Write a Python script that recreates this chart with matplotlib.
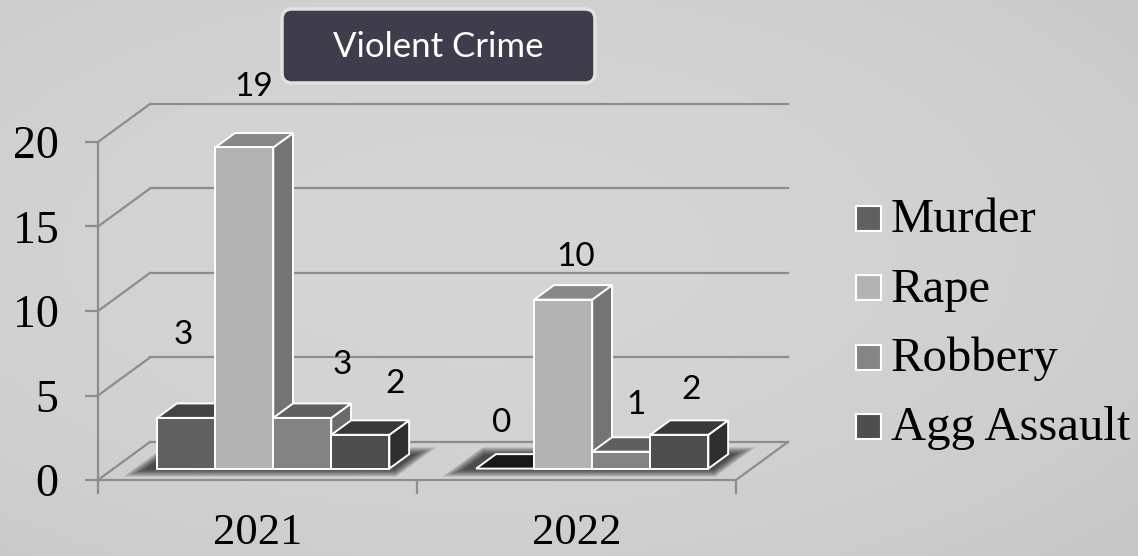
import numpy as np
import matplotlib
matplotlib.use('Agg')
import matplotlib.pyplot as plt
from matplotlib.patches import Polygon, FancyBboxPatch, Rectangle

# ---------------- data ----------------
years = ['2021', '2022']
crimes = ['Murder', 'Rape', 'Robbery', 'Agg Assault']
murder = [3, 0]
rape = [19, 10]
robbery = [3, 1]
agg_assault = [2, 2]
series = [murder, rape, robbery, agg_assault]
y_ticks = [0, 5, 10, 15, 20]
title = 'Violent Crime'

# ---------------- style ----------------
front_col = ['#606060', '#b3b3b3', '#838383', '#4e4e4e']
top_col = ['#444444', '#888888', '#5f5f5f', '#393939']
side_col = ['#4d4d4d', '#747474', '#6b6b6b', '#2f2f2f']
legend_col = ['#606060', '#b3b3b3', '#858585', '#4e4e4e']
zero_top = '#181818'
grid_col = '#8d8d8d'
# label nudges in pixels (dx, dy screen-down), per year then per crime
label_nudge = [[(-13, -76), (0, -53), (30, -46), (25, -44)],
               [(-13, -38), (3, -35), (5, -39), (2, -38)]]

W, H = 1138, 556
fig = plt.figure(figsize=(W / 100, H / 100), dpi=100)

# background gradient
bg = fig.add_axes([0, 0, 1, 1], zorder=-10)
yy, xx = np.mgrid[0:1:200j, 0:1:400j]
r = np.sqrt(((xx - 0.42) / 0.8) ** 2 + ((yy - 0.45) / 0.8) ** 2)
val = (0.835 - 0.055 * r ** 2).clip(0, 1)
bg.imshow(np.dstack([val] * 3), extent=[0, 1, 0, 1], aspect='auto')
bg.axis('off')


def fx(px):
    return px / W


def fy(py):
    return 1 - py / H


ax = fig.add_axes([fx(98), fy(480), (736 - 98) / W, (480 - 142) / H])
ax.set_xlim(0, 2)
ax.set_ylim(0, 20)
ax.patch.set_alpha(0)

DX, DY = 0.163, 2.25  # full floor depth offset in data units
d0, d1 = 0.30, 0.68  # bar depth span
bw = 0.182
g0 = 0.1365


def P(x, y, d):
    return (x + d * DX, y + d * DY)


# walls / gridlines
for v in y_ticks:
    ax.plot([DX, 2 + DX], [v + DY, v + DY], color=grid_col, lw=1.6, clip_on=False, zorder=1)
    ax.plot([0, DX], [v, v + DY], color=grid_col, lw=1.6, clip_on=False, zorder=1)
ax.plot([2, 2 + DX], [0, DY], color=grid_col, lw=1.6, clip_on=False, zorder=1)

for s in ['top', 'right']:
    ax.spines[s].set_visible(False)
for s in ['left', 'bottom']:
    ax.spines[s].set_color(grid_col)
    ax.spines[s].set_linewidth(1.6)

ax.set_yticks(y_ticks)
ax.set_yticklabels([str(t) for t in y_ticks], fontfamily='Liberation Serif')
ax.tick_params(axis='y', length=9.5, width=1.6, color=grid_col, pad=19, labelsize=33)
ax.set_xticks([0, 1, 2])
ax.set_xticklabels([])
ax.set_xticks([0.5, 1.5], minor=True)
ax.set_xticklabels(years, minor=True, fontfamily='Liberation Serif')
ax.tick_params(axis='x', which='major', length=10, width=1.6, color=grid_col)
ax.tick_params(axis='x', which='minor', length=0, pad=23.5, labelsize=32)

# shadows
for c in range(len(years)):
    xl = c + g0 - 0.035
    xr = c + g0 + 4 * bw + 0.02
    for k in range(7):
        e = 0.006 * k
        ed = 0.03 * k
        poly = [P(xl - e, 0, d0 - 0.03 - ed), P(xr + e, 0, d0 - 0.03 - ed),
                P(xr + e, 0, d1 + ed), P(xl - e, 0, d1 + ed)]
        ax.add_patch(Polygon(poly, closed=True, facecolor='black', edgecolor='none',
                             alpha=0.13, clip_on=False, zorder=2))

# bars
for c in range(len(years)):
    for j, s in enumerate(series):
        v = s[c]
        x0 = c + g0 + j * bw
        x1 = x0 + bw
        side = [P(x1, 0, d0), P(x1, 0, d1), P(x1, v, d1), P(x1, v, d0)]
        top = [P(x0, v, d0), P(x1, v, d0), P(x1, v, d1), P(x0, v, d1)]
        front = [P(x0, 0, d0), P(x1, 0, d0), P(x1, v, d0), P(x0, v, d0)]
        kw = dict(closed=True, edgecolor='white', lw=1.4, clip_on=False, zorder=3,
                  joinstyle='miter')
        ax.add_patch(Polygon(side, facecolor=side_col[j], **kw))
        ax.add_patch(Polygon(top, facecolor=(top_col[j] if v > 0 else zero_top), **kw))
        if v > 0:
            ax.add_patch(Polygon(front, facecolor=front_col[j], **kw))
        nx, ny = label_nudge[c][j]
        ax.annotate(str(v), xy=P((x0 + x1) / 2, v, (d0 + d1) / 2),
                    xytext=(nx * 0.72, -ny * 0.72), textcoords='offset points',
                    ha='center', va='center', fontsize=24, fontfamily='Lato',
                    color='black', zorder=5, annotation_clip=False)

# overlay in pixel coordinates for title and legend
ov = fig.add_axes([0, 0, 1, 1], zorder=5)
ov.set_xlim(0, W)
ov.set_ylim(H, 0)
ov.axis('off')
ov.patch.set_alpha(0)

rr = 10
ov.add_patch(FancyBboxPatch((282 + rr, 9 + rr), 313 - 2 * rr, 74 - 2 * rr,
                            boxstyle=f'round,pad={rr}', facecolor='#3f3d4c',
                            edgecolor='#e2e2e2', lw=2.5))
ov.text(438.5, 47, title, color='white', fontsize=25, fontfamily='Lato',
        ha='center', va='center')

for i, name in enumerate(crimes):
    cy = 218 + i * 69.5
    ov.add_patch(Rectangle((856, cy - 12.5), 25, 25, facecolor=legend_col[i],
                           edgecolor='white', lw=1.5))
    ov.text(891, cy + 14, name, fontsize=35, fontfamily='Liberation Serif',
            ha='left', va='baseline', color='black')

fig.savefig('out.png', dpi=100)
